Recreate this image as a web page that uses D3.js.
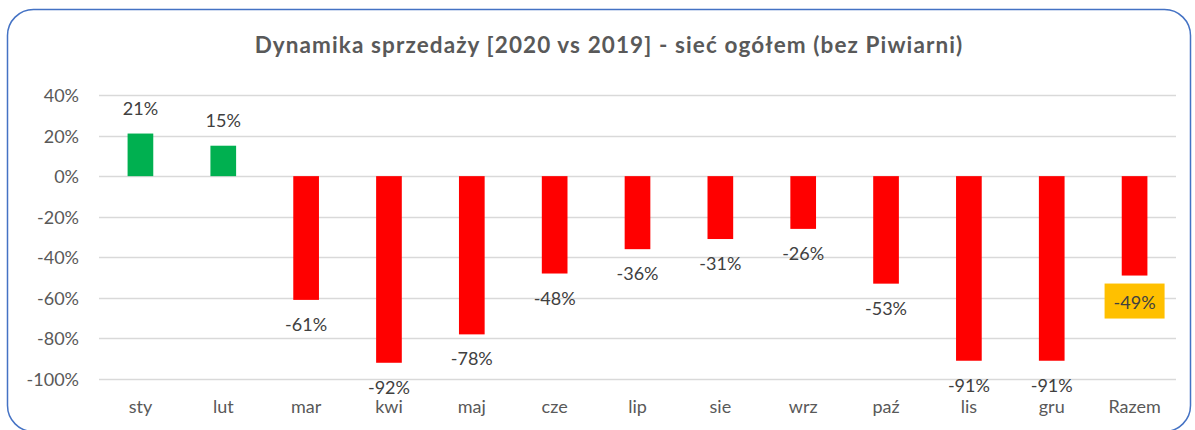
<!DOCTYPE html>
<head>
  <meta charset="utf-8">
  <script src="https://d3js.org/d3.v7.min.js"></script>
  <style>
    body { margin:0; background:#fff; }
    text { font-family: Lato, "Open Sans", sans-serif; }
  </style>
</head>
<body>
<script>
// dane
var miesiace = ["sty","lut","mar","kwi","maj","cze","lip","sie","wrz","paź","lis","gru","Razem"];
var dynamika = [0.21, 0.15, -0.61, -0.92, -0.78, -0.48, -0.36, -0.31, -0.26, -0.53, -0.91, -0.91, -0.49];
var yTicks = [0.4, 0.2, 0, -0.2, -0.4, -0.6, -0.8, -1.0];
var tytul = "Dynamika sprzedaży [2020 vs 2019] - sieć ogółem (bez Piwiarni)";

var W = 1195, H = 430;
// zwykły minus zamiast unicode
var fmt = function(v){ return Math.round(v * 100) + "%"; };

var svg = d3.select("body").append("svg")
  .attr("width", W).attr("height", H);

// ramka
svg.append("rect")
  .attr("x", 7.5).attr("y", 9.5)
  .attr("width", W - 12).attr("height", H - 8)
  .attr("rx", 26).attr("ry", 26)
  .attr("fill", "#fff").attr("stroke", "#4472C4").attr("stroke-width", 1.5);

svg.append("text")
  .attr("x", 609).attr("y", 53)
  .attr("text-anchor", "middle")
  .attr("font-size", 22.5).attr("font-weight", "bold")
  .attr("letter-spacing", "1.1px")
  .attr("fill", "#595959")
  .text(tytul);

var x = d3.scaleBand().domain(miesiace).range([99, 1176]).paddingInner(0.69).paddingOuter(0.345);
var y = d3.scaleLinear().domain([-1, 0.4]).range([379, 95]);

// siatka
svg.append("g").selectAll("line")
  .data(yTicks).enter().append("line")
  .attr("x1", 99).attr("x2", 1176)
  .attr("y1", function(d){ return Math.round(y(d)) + 0.5; })
  .attr("y2", function(d){ return Math.round(y(d)) + 0.5; })
  .attr("stroke", "#D9D9D9").attr("stroke-width", 1.5);

var yAxis = svg.append("g")
  .attr("transform", "translate(79,0)")
  .call(d3.axisLeft(y).tickValues(yTicks).tickFormat(fmt).tickSize(0).tickPadding(0));
yAxis.select(".domain").remove();
yAxis.selectAll("text").attr("font-size", 18).attr("fill", "#595959")
  .attr("font-family", "Lato, 'Open Sans', sans-serif").attr("dy", "0.36em");

var xAxis = svg.append("g")
  .attr("transform", "translate(0,413)")
  .call(d3.axisBottom(x).tickSize(0).tickPadding(0));
xAxis.select(".domain").remove();
xAxis.selectAll("text").attr("font-size", 18).attr("fill", "#595959")
  .attr("font-family", "Lato, 'Open Sans', sans-serif").attr("y", 0).attr("dy", 0);

var dane = miesiace.map(function(m, i){ return {m: m, v: dynamika[i]}; });

svg.append("g").selectAll("rect")
  .data(dane).enter().append("rect")
  .attr("x", function(d){ return x(d.m); })
  .attr("width", x.bandwidth())
  .attr("y", function(d){ return y(Math.max(0, d.v)); })
  .attr("height", function(d){ return Math.abs(y(d.v) - y(0)); })
  .attr("fill", function(d){ return d.v >= 0 ? "#00B050" : "#FF0000"; });

// etykieta Razem
var razem = dane[dane.length - 1];
svg.append("rect")
  .attr("x", x(razem.m) + x.bandwidth()/2 - 30)
  .attr("y", y(razem.v) + 8)
  .attr("width", 60).attr("height", 35)
  .attr("fill", "#FFC000");

svg.append("g").selectAll("text")
  .data(dane).enter().append("text")
  .attr("x", function(d){ return x(d.m) + x.bandwidth()/2; })
  .attr("y", function(d){
    if (d.m == "Razem") return y(d.v) + 33;
    return d.v >= 0 ? y(d.v) - 19 : y(d.v) + 31;
  })
  .attr("text-anchor", "middle")
  .attr("font-size", 18)
  .attr("fill", "#404040")
  .text(function(d){ return fmt(d.v); });
</script>
</body>
